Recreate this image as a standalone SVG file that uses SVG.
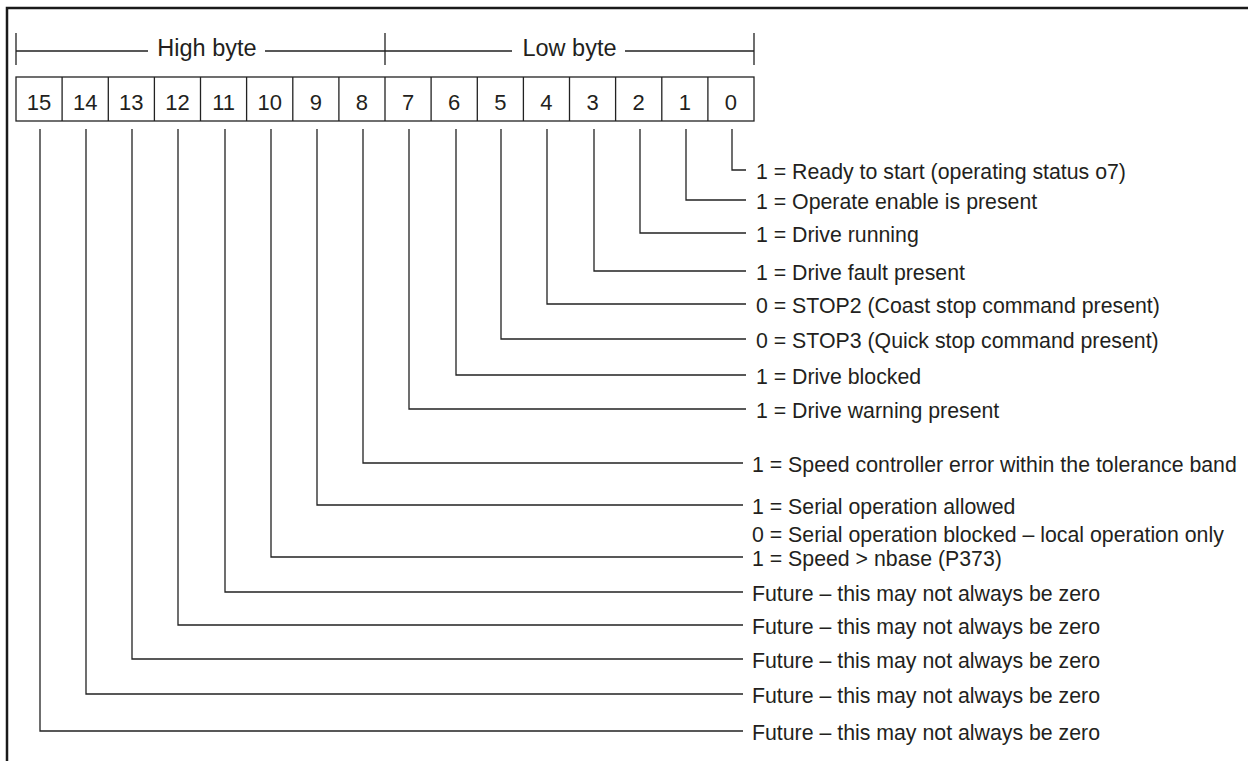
<svg xmlns="http://www.w3.org/2000/svg" width="1248" height="761" viewBox="0 0 1248 761">
<style>
  .frame{fill:none;stroke:#1a1a1a;stroke-width:2.5}
  .ln{fill:none;stroke:#222;stroke-width:1.3}
  .cell{fill:#fff;stroke:#222;stroke-width:1.3}
  text{font-family:"Liberation Sans",Arial,Helvetica,sans-serif;fill:#231f20}
  .hdr{font-size:23.5px;text-anchor:middle}
  .num{font-size:22px;text-anchor:middle}
  .lbl{font-size:21.3px}
</style>
<rect width="1248" height="761" fill="#fff"/>
<path class="frame" d="M7,761 V8 H1248"/>
<g id="header">
  <path class="ln" d="M16,33 V65 M385,33 V65 M754,33 V65 M16,51 H148 M265,51 H385 M385,51 H512 M625,51 H754"/>
  <text class="hdr" x="207" y="56">High byte</text>
  <text class="hdr" x="569.5" y="56">Low byte</text>
</g>
<g id="bits">
  <rect class="cell" x="16" y="77" width="738" height="44"/>
  <path class="ln" d="M62.1,77V121 M108.3,77V121 M154.4,77V121 M200.5,77V121 M246.6,77V121 M292.8,77V121 M338.9,77V121 M385,77V121 M431.1,77V121 M477.3,77V121 M523.4,77V121 M569.5,77V121 M615.6,77V121 M661.8,77V121 M707.9,77V121"/>
  <text class="num" x="39.1" y="110">15</text>
  <text class="num" x="85.2" y="110">14</text>
  <text class="num" x="131.3" y="110">13</text>
  <text class="num" x="177.4" y="110">12</text>
  <text class="num" x="223.6" y="110">11</text>
  <text class="num" x="269.7" y="110">10</text>
  <text class="num" x="315.8" y="110">9</text>
  <text class="num" x="361.9" y="110">8</text>
  <text class="num" x="408.1" y="110">7</text>
  <text class="num" x="454.2" y="110">6</text>
  <text class="num" x="500.3" y="110">5</text>
  <text class="num" x="546.4" y="110">4</text>
  <text class="num" x="592.6" y="110">3</text>
  <text class="num" x="638.7" y="110">2</text>
  <text class="num" x="684.8" y="110">1</text>
  <text class="num" x="730.9" y="110">0</text>
</g>
<g id="connectors">
  <path class="ln" d="M732,129 V170 H746"/>
  <path class="ln" d="M686,129 V200 H746"/>
  <path class="ln" d="M640,129 V233 H746"/>
  <path class="ln" d="M594,129 V271 H746"/>
  <path class="ln" d="M547,129 V304 H746"/>
  <path class="ln" d="M501,129 V339 H746"/>
  <path class="ln" d="M456,129 V375 H746"/>
  <path class="ln" d="M409,129 V409 H746"/>
  <path class="ln" d="M363,129 V463 H743"/>
  <path class="ln" d="M317,129 V505 H743"/>
  <path class="ln" d="M271,129 V557 H743"/>
  <path class="ln" d="M225,129 V592 H743"/>
  <path class="ln" d="M178,129 V625 H743"/>
  <path class="ln" d="M132,129 V659 H743"/>
  <path class="ln" d="M86,129 V694 H743"/>
  <path class="ln" d="M40,129 V731 H743"/>
</g>
<g id="labels">
  <text class="lbl" x="756" y="178.5">1 = Ready to start (operating status o7)</text>
  <text class="lbl" x="756" y="209">1 = Operate enable is present</text>
  <text class="lbl" x="756" y="242">1 = Drive running</text>
  <text class="lbl" x="756" y="279.5">1 = Drive fault present</text>
  <text class="lbl" x="756" y="313">0 = STOP2 (Coast stop command present)</text>
  <text class="lbl" x="756" y="347.5">0 = STOP3 (Quick stop command present)</text>
  <text class="lbl" x="756" y="383.5">1 = Drive blocked</text>
  <text class="lbl" x="756" y="417.5">1 = Drive warning present</text>
  <text class="lbl" x="752" y="472">1 = Speed controller error within the tolerance band</text>
  <text class="lbl" x="752" y="514">1 = Serial operation allowed</text>
  <text class="lbl" x="752" y="542">0 = Serial operation blocked – local operation only</text>
  <text class="lbl" x="752" y="565.5">1 = Speed &gt; nbase (P373)</text>
  <text class="lbl" x="752" y="600.5">Future – this may not always be zero</text>
  <text class="lbl" x="752" y="634">Future – this may not always be zero</text>
  <text class="lbl" x="752" y="668">Future – this may not always be zero</text>
  <text class="lbl" x="752" y="703">Future – this may not always be zero</text>
  <text class="lbl" x="752" y="739.5">Future – this may not always be zero</text>
</g>
</svg>
